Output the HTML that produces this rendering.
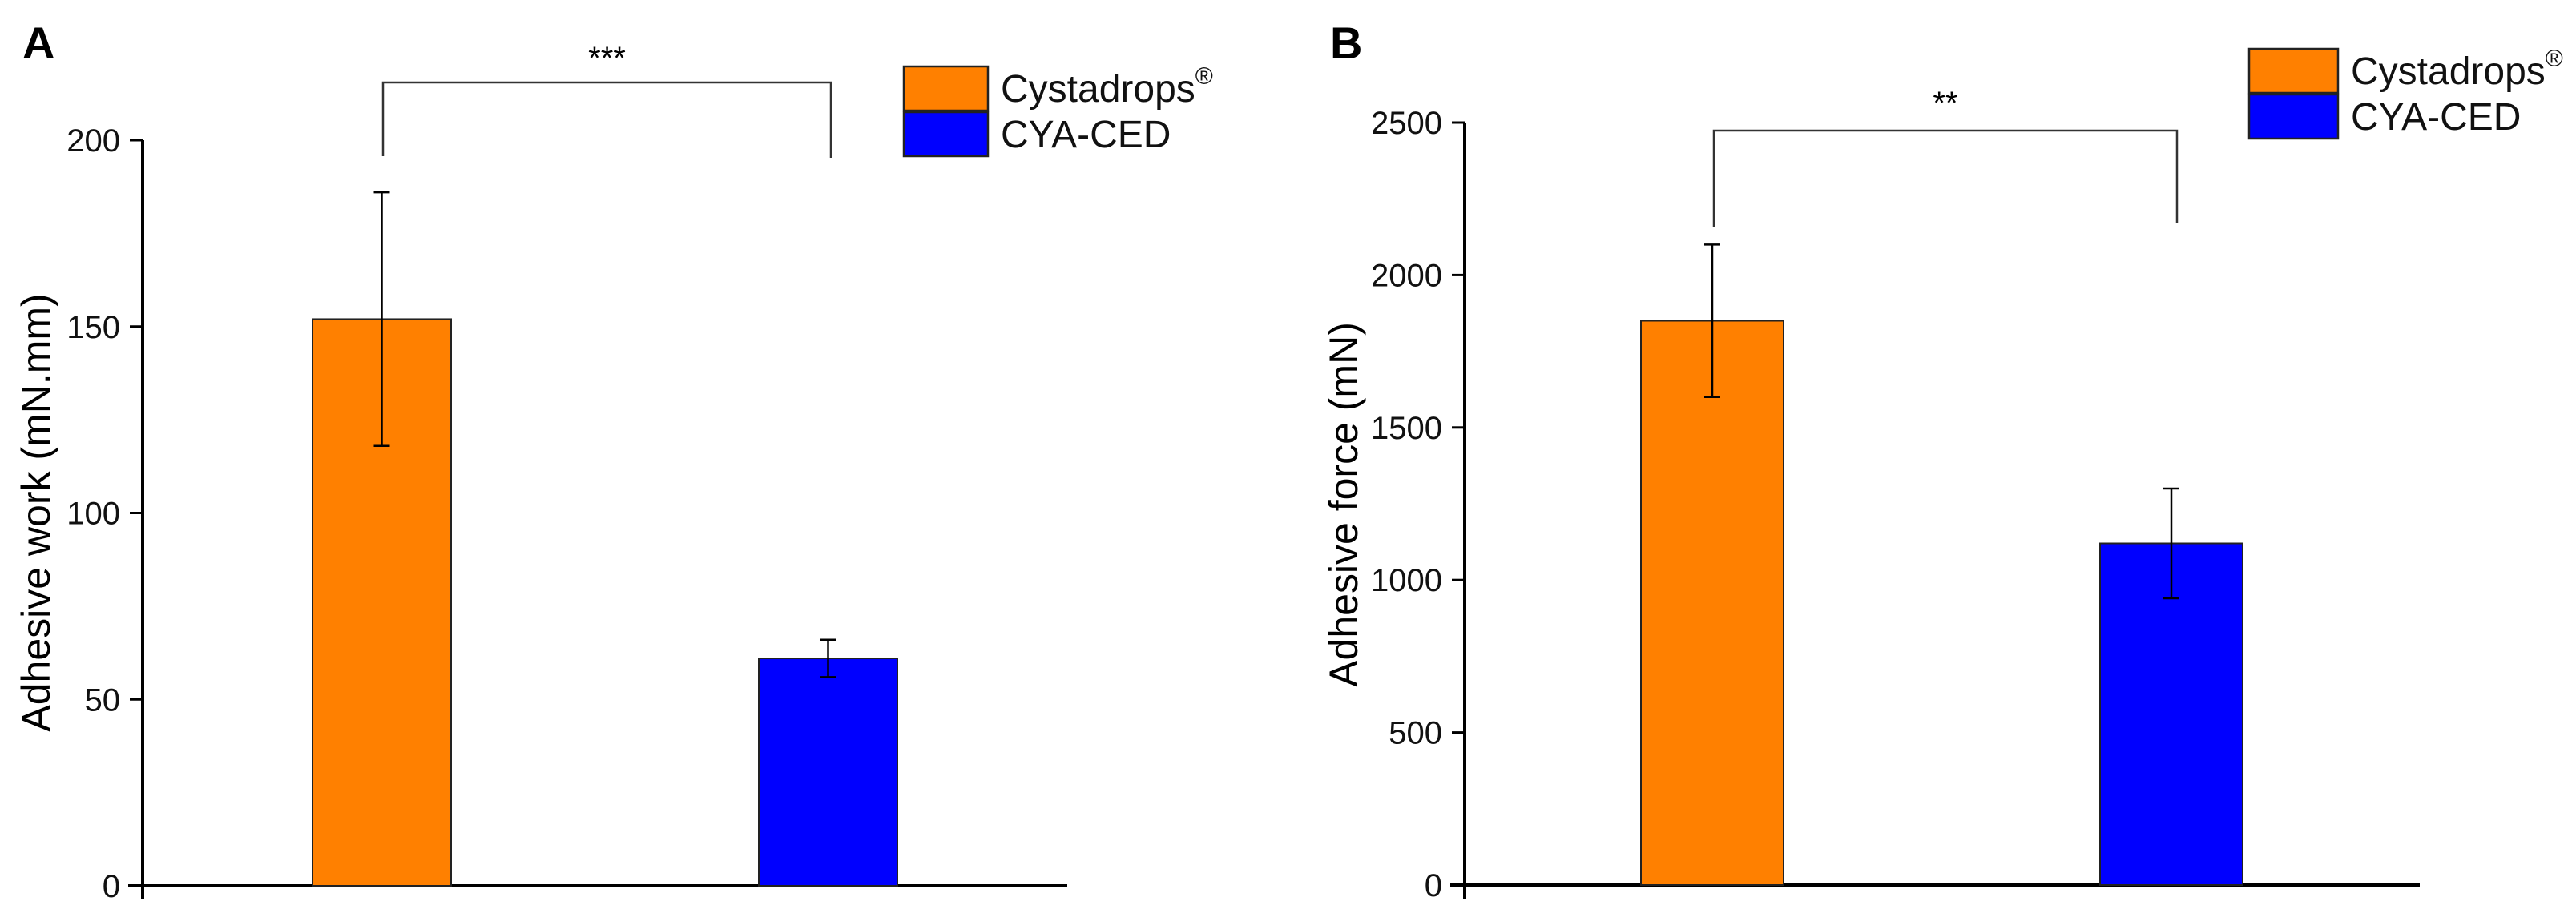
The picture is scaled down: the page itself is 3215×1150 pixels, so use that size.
<!DOCTYPE html>
<html><head><meta charset="utf-8"><style>
html,body{margin:0;padding:0;background:#fff;}
svg{display:block;font-family:"Liberation Sans",sans-serif;}
</style></head><body>
<svg id="fig" width="3215" height="1150" viewBox="0 0 3215 1150"></svg>
<script>
const categories = ["Cystadrops®", "CYA-CED"];
const colors = ["#FF8000", "#0000FF"];
const workValues = [152, 61];
const workErrLow = [118, 56];
const workErrHigh = [186, 66];
const workTicks = [0, 50, 100, 150, 200];
const forceValues = [1850, 1120];
const forceErrLow = [1600, 940];
const forceErrHigh = [2100, 1300];
const forceTicks = [0, 500, 1000, 1500, 2000, 2500];

const NS = "http://www.w3.org/2000/svg";
const svg = document.getElementById("fig");
function el(tag, attrs, parent) {
  const e = document.createElementNS(NS, tag);
  for (const k in attrs) e.setAttribute(k, attrs[k]);
  (parent || svg).appendChild(e);
  return e;
}

function panel(cfg) {
  const g = el("g", {});
  
  
  const yMax = cfg.ticks[cfg.ticks.length - 1];
  const y = v => cfg.y0 - (v / yMax) * (cfg.y0 - cfg.yTop);
  // axes
  const ya = el("line", {x1: cfg.ax, y1: cfg.yTop, x2: cfg.ax, y2: cfg.y0 + 17, stroke: "#000", "stroke-width": 4}, g);
  
  
  const xa = el("line", {x1: cfg.ax - 18, y1: cfg.y0, x2: cfg.xEnd, y2: cfg.y0, stroke: "#000", "stroke-width": 4}, g);
  
  
  cfg.ticks.forEach(t => {
    const tk = el("line", {x1: cfg.ax - 16, y1: y(t), x2: cfg.ax, y2: y(t), stroke: "#000", "stroke-width": 3}, g);
    
    
    const tl = el("text", {x: cfg.ax - 28, y: y(t) + 14, "font-size": 40, "text-anchor": "end", fill: "#111"}, g);
    tl.textContent = t;
    
    
  });
  // bars
  cfg.values.forEach((v, i) => {
    const bx = cfg.barX[i];
    const b = el("rect", {x: bx, y: y(v), width: cfg.barW, height: cfg.y0 - y(v), fill: colors[i], stroke: "#222", "stroke-width": 2}, g);
    
    
    const cx = bx + cfg.barW / 2;
    const eg = el("g", {stroke: "#000", "stroke-width": 2.5}, g);
    
    
    el("line", {x1: cx, y1: y(cfg.hi[i]), x2: cx, y2: y(cfg.lo[i])}, eg);
    el("line", {x1: cx - 10, y1: y(cfg.hi[i]), x2: cx + 10, y2: y(cfg.hi[i])}, eg);
    el("line", {x1: cx - 10, y1: y(cfg.lo[i]), x2: cx + 10, y2: y(cfg.lo[i])}, eg);
  });
  // bracket
  const br = el("polyline", {points: `${cfg.br[0]},${cfg.br[3]} ${cfg.br[0]},${cfg.br[2]} ${cfg.br[1]},${cfg.br[2]} ${cfg.br[1]},${cfg.br[4]}`, fill: "none", stroke: "#333", "stroke-width": 2.5}, g);
  
  
  const st = el("text", {x: (cfg.br[0] + cfg.br[1]) / 2, y: cfg.starY, "font-size": 40, "text-anchor": "middle", fill: "#000"}, g);
  st.textContent = cfg.stars;
  
  
  // y title
  const yt = el("text", {x: 0, y: 0, "font-size": 50, "text-anchor": "middle", fill: "#000", transform: `translate(${cfg.titleX},${cfg.titleY}) rotate(-90)`}, g);
  yt.textContent = cfg.title;
  
  
  // panel letter
  const pl = el("text", {x: cfg.letterX, y: 73, "font-size": 56, "font-weight": "bold", fill: "#000"}, g);
  pl.textContent = cfg.letter;
  
  
  // legend
  const lg = el("g", {}, g);
  
  
  categories.forEach((c, i) => {
    const ly = cfg.legY + i * 57;
    const e = el("g", {}, lg);
    
    
    el("rect", {x: cfg.legX, y: ly, width: cfg.legW, height: 55, fill: colors[i], stroke: "#222", "stroke-width": 2.5}, e);
    const t = el("text", {x: cfg.legX + cfg.legW + 16, y: ly + 44, "font-size": 48, fill: "#111"}, e);
    if (i === 0) {
      t.textContent = "Cystadrops";
      const sup = el("tspan", {"font-size": 30, dy: -22}, t);
      sup.textContent = "®";
    } else t.textContent = c;
  });
}

panel({name: "panel-a-adhesive-work", ax: 178, y0: 1106, yTop: 175, xEnd: 1332, ticks: workTicks,
  values: workValues, lo: workErrLow, hi: workErrHigh, barX: [390, 947], barW: 173,
  br: [478, 1037, 103, 195, 197], stars: "***", starY: 86, title: "Adhesive work (mN.mm)",
  titleX: 62, titleY: 640, letter: "A", letterX: 28, legX: 1128, legY: 83, legW: 105});
panel({name: "panel-b-adhesive-force", ax: 1828, y0: 1105, yTop: 153, xEnd: 3020, ticks: forceTicks,
  values: forceValues, lo: forceErrLow, hi: forceErrHigh, barX: [2048, 2621], barW: 178,
  br: [2139, 2717, 163, 283, 278], stars: "**", starY: 142, title: "Adhesive force (mN)",
  titleX: 1694, titleY: 630, letter: "B", letterX: 1660, legX: 2807, legY: 61, legW: 111});
</script>
</body></html>
